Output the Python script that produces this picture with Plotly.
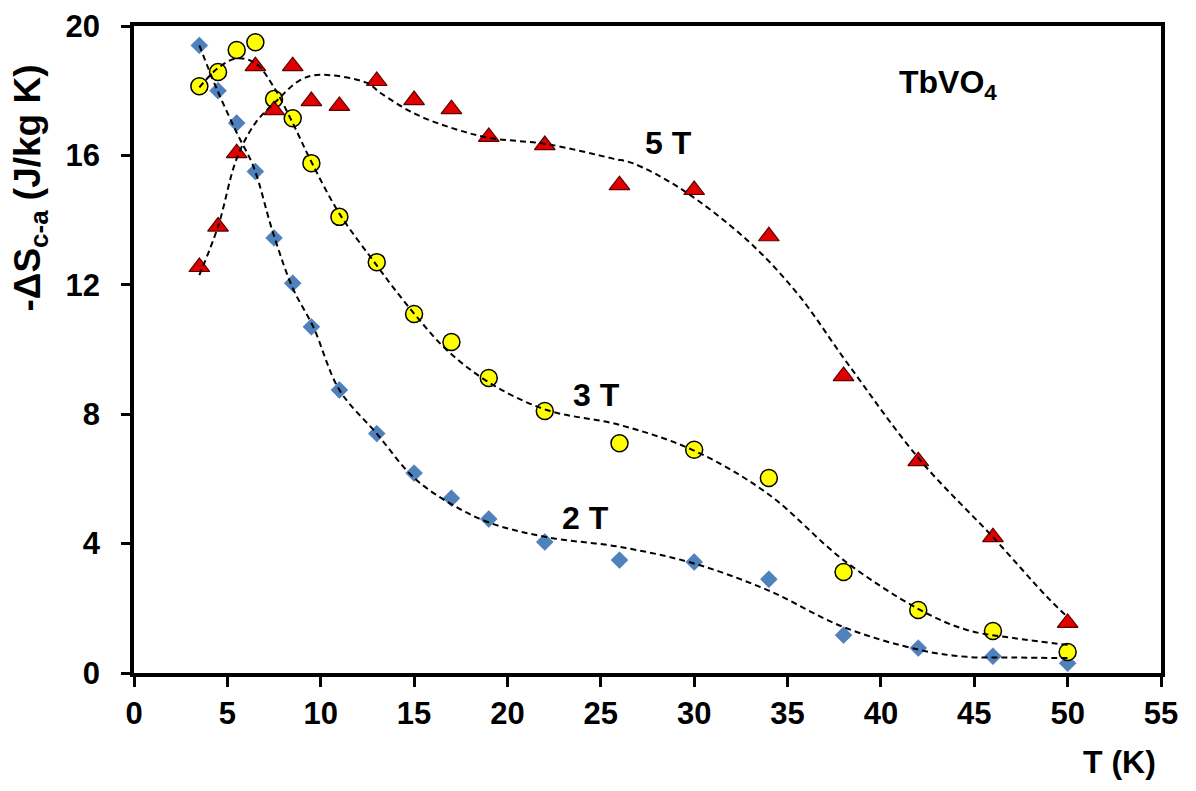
import plotly.graph_objects as go

T = [3.5, 4.5, 5.5, 6.5, 7.5, 8.5, 9.5, 11, 13, 15, 17, 19, 22, 26, 30, 34, 38, 42, 46, 50]
S_2T = [19.4, 18.0, 17.0, 15.5, 13.45, 12.05, 10.7, 8.75, 7.4, 6.18, 5.4, 4.76, 4.05, 3.49, 3.43, 2.9, 1.17, 0.77, 0.52, 0.3]
S_3T = [18.14, 18.58, 19.26, 19.5, 17.74, 17.15, 15.76, 14.1, 12.7, 11.1, 10.23, 9.12, 8.1, 7.1, 6.9, 6.03, 3.12, 1.95, 1.3, 0.65]
S_5T = [12.55, 13.8, 16.07, 18.76, 17.4, 18.76, 17.68, 17.53, 18.3, 17.71, 17.43, 16.57, 16.32, 15.08, 14.93, 13.5, 9.18, 6.55, 4.2, 1.55]

# dashed trend curves
fit2_x = [3.5, 4.4, 5.5, 6.4, 7.45, 8.5, 9.6, 11.0, 13.0, 14.95, 16.9, 19.07, 22.1, 26.0, 29.9, 33.9, 38.0, 42.1, 44.6, 47.1, 50.0]
fit2_y = [19.4, 18.1, 16.7, 15.65, 13.6, 11.9, 10.7, 8.75, 7.4, 6.06, 5.25, 4.64, 4.2, 3.9, 3.4, 2.57, 1.42, 0.71, 0.5, 0.48, 0.46]
fit3_x = [3.5, 4.5, 5.5, 6.5, 7.5, 8.5, 9.5, 11.0, 13.0, 13.87, 15.16, 16.76, 19.07, 22.1, 26.0, 29.9, 33.9, 38.0, 42.1, 44.6, 47.1, 50.0]
fit3_y = [18.1, 18.7, 19.0, 18.85, 18.1, 17.0, 15.8, 14.2, 12.6, 11.93, 11.0, 9.98, 8.96, 8.13, 7.67, 6.9, 5.56, 3.49, 1.95, 1.33, 1.08, 0.87]
fit5_x = [3.5, 4.5, 5.5, 6.5, 7.66, 8.9, 9.96, 12.48, 13.2, 15.0, 17.0, 19.07, 22.1, 25.66, 26.7, 29.2, 32.8, 35.5, 38.2, 42.1, 46.0, 48.9, 50.0]
fit5_y = [12.3, 13.8, 15.9, 17.0, 17.7, 18.33, 18.49, 18.24, 17.93, 17.3, 16.85, 16.54, 16.35, 15.9, 15.76, 15.0, 13.4, 11.75, 9.58, 6.58, 4.2, 2.35, 1.73]

x_ticks = list(range(0, 56, 5))
y_ticks = [0, 4, 8, 12, 16, 20]

FONT = "Liberation Sans, Arial, sans-serif"

fig = go.Figure()

fig.add_trace(go.Scatter(x=T, y=S_2T, mode="markers",
                         marker=dict(symbol="diamond", size=13, color="#4F81BD",
                                     line=dict(color="#3A6AA8", width=0.5))))
fig.add_trace(go.Scatter(x=T, y=S_3T, mode="markers",
                         marker=dict(symbol="circle", size=17, color="#FFFF00",
                                     line=dict(color="#000000", width=1.5))))
fig.add_trace(go.Scatter(x=T, y=S_5T, mode="markers",
                         marker=dict(symbol="triangle-up", size=18, color="#E00000",
                                     line=dict(color="#600000", width=1.2))))

for fx, fy in [(fit2_x, fit2_y), (fit3_x, fit3_y), (fit5_x, fit5_y)]:
    fig.add_trace(go.Scatter(x=fx, y=fy, mode="lines",
                             line=dict(color="#000000", width=2, dash="6px,4px", shape="spline", smoothing=1.0)))

fig.update_layout(
    width=1188, height=783,
    margin=dict(l=126, r=35, t=18, b=118),
    paper_bgcolor="white", plot_bgcolor="white",
    showlegend=False,
    font=dict(family=FONT, color="#000000"),
)
fig.update_xaxes(range=[0, 55], tickvals=x_ticks, ticktext=[f"<b>{v}</b>" for v in x_ticks],
                 showgrid=False, zeroline=False, showline=True, linecolor="black", linewidth=3.5,
                 mirror=True, ticks="outside", ticklen=10, tickwidth=3, tickcolor="black",
                 tickfont=dict(size=31), automargin=False)
fig.update_yaxes(range=[0, 20], tickvals=y_ticks, ticktext=[f"<b>{v}</b>" for v in y_ticks],
                 showgrid=False, zeroline=False, showline=True, linecolor="black", linewidth=3.5,
                 mirror=True, ticks="outside", ticklen=9, tickwidth=3, tickcolor="black",
                 tickfont=dict(size=31), ticklabelstandoff=15, automargin=False)

# axis titles
fig.add_annotation(x=-0.1013, y=0.5564, xref="paper", yref="paper", xanchor="center", yanchor="bottom",
                   text="<b>-ΔS<sub>c-a</sub> (J/kg K)</b>", showarrow=False, textangle=-90,
                   font=dict(size=37))
fig.add_annotation(x=52.76, y=-0.1376, xref="x", yref="paper", xanchor="center", yanchor="middle",
                   text="<b>T (K)</b>", showarrow=False, font=dict(size=32))

fig.add_annotation(x=43.6, y=18.18, xref="x", yref="y", text="<b>TbVO<sub>4</sub></b>", showarrow=False,
                   font=dict(size=32))
fig.add_annotation(x=28.6, y=16.38, xref="x", yref="y", text="<b>5 T</b>", showarrow=False,
                   font=dict(size=32))
fig.add_annotation(x=24.75, y=8.59, xref="x", yref="y", text="<b>3 T</b>", showarrow=False,
                   font=dict(size=32))
fig.add_annotation(x=24.2, y=4.79, xref="x", yref="y", text="<b>2 T</b>", showarrow=False,
                   font=dict(size=32))

fig.write_html("out.html")
